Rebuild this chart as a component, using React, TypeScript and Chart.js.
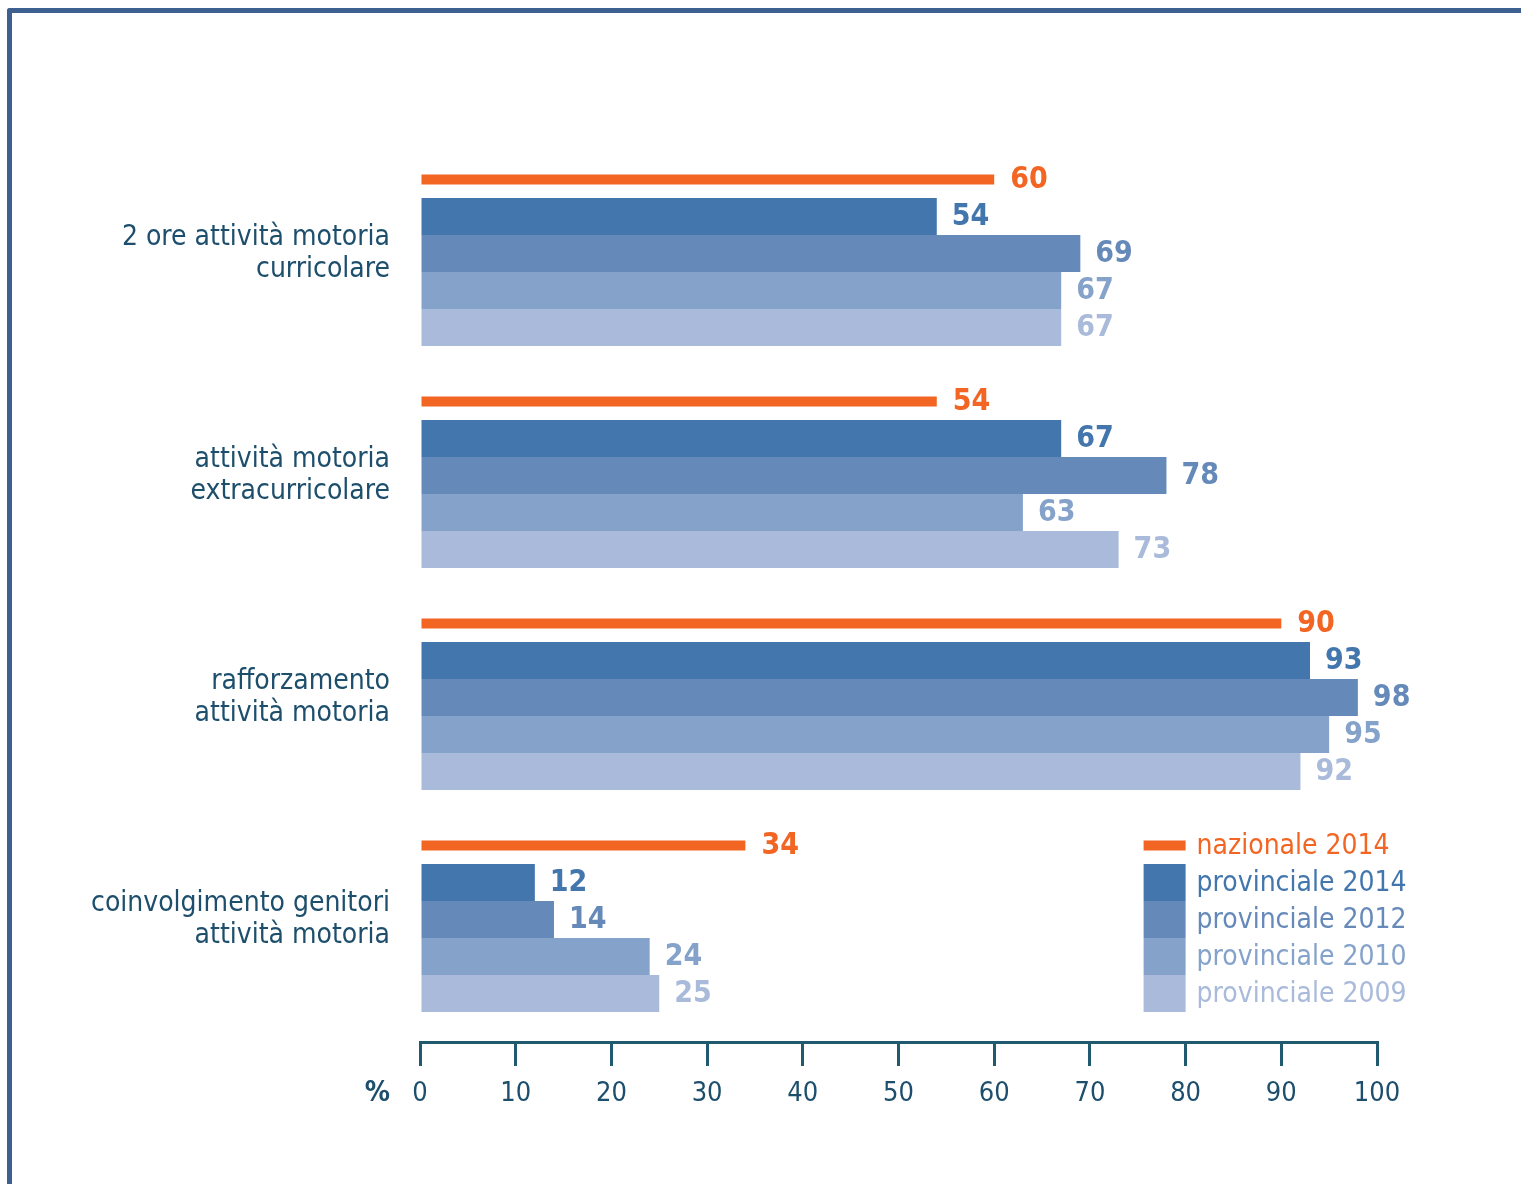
import React, { useEffect, useRef } from 'react';
import { Chart, registerables } from 'chart.js';

Chart.register(...registerables);

// ---- data ----
const categories: string[][] = [
  ['2 ore attività motoria', 'curricolare'],
  ['attività motoria', 'extracurricolare'],
  ['rafforzamento', 'attività motoria'],
  ['coinvolgimento genitori', 'attività motoria'],
];
const seriesNames = ['nazionale 2014', 'provinciale 2014', 'provinciale 2012', 'provinciale 2010', 'provinciale 2009'];
const nazionale2014 = [60, 54, 90, 34];
const provinciale2014 = [54, 67, 93, 12];
const provinciale2012 = [69, 78, 98, 14];
const provinciale2010 = [67, 63, 95, 24];
const provinciale2009 = [67, 73, 92, 25];
const axisMin = 0;
const axisMax = 100;
const axisStep = 10;
const unitLabel = '%';

// ---- styles ----
const seriesColors = ['#f26522', '#4276ad', '#6589b9', '#85a2ca', '#a9bada'];
const FONT = '"DejaVu Sans Condensed", "Liberation Sans Narrow", "Liberation Sans", sans-serif';
const TEXT = '#1d4f6d';
const AXIS = '#21596f';
const AXIS_POS = 3.556; // in category units, places the axis line below the last group

const overlayPlugin = {
  id: 'overlay',
  afterDatasetsDraw(chart: any) {
    const ctx = chart.ctx;
    const xs = chart.scales.x;
    const ys = chart.scales.y;
    ctx.save();
    // value labels
    chart.data.datasets.forEach((ds: any, i: number) => {
      const meta = chart.getDatasetMeta(i);
      meta.data.forEach((bar: any, j: number) => {
        const { x, y } = bar.getProps(['x', 'y'], true);
        ctx.font = `bold 30px ${FONT}`;
        ctx.fillStyle = ds.backgroundColor;
        ctx.textAlign = 'left';
        ctx.textBaseline = 'middle';
        ctx.fillText(String(ds.data[j]), x + (i === 0 ? 16 : 15), y + 1);
      });
    });
    // legend, aligned with the bars of the last group
    const last = chart.data.labels.length - 1;
    const swR = xs.getPixelForValue(80);
    chart.data.datasets.forEach((ds: any, i: number) => {
      const bar = chart.getDatasetMeta(i).data[last];
      const { y, height } = bar.getProps(['y', 'height'], true);
      ctx.fillStyle = ds.backgroundColor;
      ctx.fillRect(swR - 42, y - height / 2, 42, height);
      ctx.font = `28px ${FONT}`;
      ctx.textAlign = 'left';
      ctx.textBaseline = 'middle';
      ctx.fillText(ds.label, swR + 11, y + 1);
    });
    // unit label
    const axisY = ys.getPixelForValue(AXIS_POS);
    ctx.font = `bold 28px ${FONT}`;
    ctx.fillStyle = TEXT;
    ctx.textAlign = 'right';
    ctx.textBaseline = 'middle';
    ctx.fillText(unitLabel, xs.left - 30, axisY + 51);
    ctx.restore();
  },
};

export default function App() {
  const ref = useRef<HTMLCanvasElement | null>(null);

  useEffect(() => {
    if (!ref.current) return;
    const seriesData = [nazionale2014, provinciale2014, provinciale2012, provinciale2010, provinciale2009];
    const chart = new Chart(ref.current, {
      type: 'bar',
      data: {
        labels: categories,
        datasets: seriesData.map((d, i) => ({
          label: seriesNames[i],
          data: d,
          backgroundColor: seriesColors[i],
          borderWidth: 0,
          categoryPercentage: 185 / 222,
          barPercentage: 1,
          ...(i === 0 ? { maxBarThickness: 10 } : {}),
        })),
      },
      options: {
        indexAxis: 'y',
        animation: false,
        responsive: false,
        maintainAspectRatio: false,
        devicePixelRatio: 1,
        layout: { padding: { top: 142.5, bottom: 153.5, left: 0, right: 144 } },
        plugins: { legend: { display: false }, tooltip: { enabled: false }, title: { display: false } },
        scales: {
          x: {
            type: 'linear',
            position: { y: AXIS_POS } as any,
            min: axisMin,
            max: axisMax,
            ticks: {
              stepSize: axisStep,
              color: TEXT,
              font: { family: FONT, size: 27 },
              padding: 13,
            },
            grid: {
              drawOnChartArea: false,
              drawTicks: true,
              tickLength: 22,
              lineWidth: 3,
              color: AXIS,
            },
            border: { display: true, width: 3, color: AXIS },
          },
          y: {
            type: 'category',
            grid: { display: false, drawTicks: false },
            border: { display: false },
            ticks: {
              color: TEXT,
              font: { family: FONT, size: 28, lineHeight: 32 / 28 },
              padding: 30,
            },
            afterFit: (scale: any) => {
              scale.width = 420;
            },
          },
        },
      },
      plugins: [overlayPlugin],
    });
    return () => chart.destroy();
  }, []);

  return (
    <div style={{ position: 'absolute', left: 0, top: 0, width: 1521, height: 1184, overflow: 'hidden', background: '#fff' }}>
      <div
        style={{
          position: 'absolute',
          left: 7,
          top: 8,
          width: 1521,
          height: 1200,
          borderLeft: '5px solid #3d6090',
          borderTop: '5px solid #3d6090',
          borderTopLeftRadius: 3,
          boxSizing: 'border-box',
        }}
      />
      <canvas ref={ref} width={1521} height={1184} style={{ position: 'absolute', left: 0, top: 0, width: 1521, height: 1184 }} />
    </div>
  );
}
